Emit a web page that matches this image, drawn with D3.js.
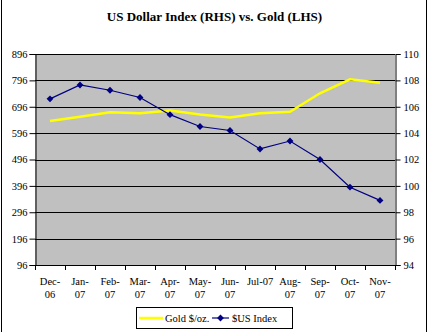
<!DOCTYPE html>
<html><head><meta charset="utf-8">
<script src="https://cdn.jsdelivr.net/npm/d3@7/dist/d3.min.js"></script>
<style>
body{margin:0;background:#fff;}
text{font-family:"Liberation Serif","Times New Roman",serif;fill:#000;}
</style></head>
<body><svg id="c" width="429" height="332"></svg>
<script>
const months = [["Dec-","06"],["Jan-","07"],["Feb-","07"],["Mar-","07"],["Apr-","07"],["May-","07"],["Jun-","07"],["Jul-07"],["Aug-","07"],["Sep-","07"],["Oct-","07"],["Nov-","07"]];
const gold = [642, 658, 675, 671, 682, 667, 655, 671, 677, 747, 800, 787];
const usd = [106.6, 107.65, 107.25, 106.7, 105.4, 104.5, 104.2, 102.8, 103.4, 102.0, 99.9, 98.9];
const leftTicks = [96,196,296,396,496,596,696,796,896];
const rightTicks = [94,96,98,100,102,104,106,108,110];
const title = "US Dollar Index (RHS) vs. Gold (LHS)";
const legendLabels = ["Gold $/oz.","$US Index"];

const svg = d3.select("#c");
const L=35, R=395, T=54, B=265;
const x = d3.scaleBand().domain(d3.range(months.length)).range([L,R]);
const yL = d3.scaleLinear().domain([96,896]).range([B,T]);
const yR = d3.scaleLinear().domain([94,110]).range([B,T]);

// outer borders
svg.append("line").attr("x1",1.5).attr("x2",1.5).attr("y1",0).attr("y2",332).attr("stroke","#000");
svg.append("line").attr("x1",426.5).attr("x2",426.5).attr("y1",0).attr("y2",332).attr("stroke","#000");

svg.append("text").attr("x",214.5).attr("y",21).attr("text-anchor","middle")
  .style("font-size","13px").style("font-weight","bold").text(title);

svg.append("rect").attr("x",L).attr("y",T).attr("width",R-L).attr("height",B-T).attr("fill","#c0c0c0");

// gridlines
svg.append("g").selectAll("line").data(leftTicks.slice(1)).join("line")
  .attr("x1",L).attr("x2",R).attr("y1",d=>Math.round(yL(d))+0.5).attr("y2",d=>Math.round(yL(d))+0.5)
  .attr("stroke","#000");

// left axis
const gl = svg.append("g").attr("transform",`translate(${L+0.5},0)`)
  .call(d3.axisLeft(yL).tickValues(leftTicks).tickSize(6).tickPadding(2).tickFormat(d3.format("d")).offset(0.5));
gl.attr("font-family",null);
gl.selectAll("text").style("font-size","10.5px");
gl.select(".domain").attr("stroke","#000");

// right axis
const gr = svg.append("g").attr("transform",`translate(${R+0.5},0)`)
  .call(d3.axisRight(yR).tickValues(rightTicks).tickSize(5).tickPadding(3).tickFormat(d3.format("d")).offset(0.5));
gr.attr("font-family",null);
gr.selectAll("text").style("font-size","10.5px");

// bottom axis
svg.append("line").attr("x1",L).attr("x2",R+1).attr("y1",B+0.5).attr("y2",B+0.5).attr("stroke","#000");
const bounds = d3.range(months.length+1).map(i=> i<months.length ? x(i) : x(months.length-1)+x.bandwidth());
svg.append("g").selectAll("line").data(bounds).join("line")
  .attr("x1",d=>Math.round(d)+0.5).attr("x2",d=>Math.round(d)+0.5).attr("y1",B).attr("y2",B+5).attr("stroke","#000");
const xl = svg.append("g").selectAll("text").data(months).join("text")
  .attr("x",(d,i)=>x(i)+x.bandwidth()/2).attr("y",285).attr("text-anchor","middle").style("font-size","10.5px");
xl.selectAll("tspan").data(d=>d).join("tspan")
  .attr("x",function(){return this.parentNode.getAttribute("x");})
  .attr("dy",(d,i)=>i===0?0:13).text(d=>d);

const cx = i=>x(i)+x.bandwidth()/2;
// gold line
svg.append("path").datum(gold).attr("fill","none").attr("stroke","#ffff00").attr("stroke-width",2.5)
  .attr("d",d3.line().x((d,i)=>cx(i)).y(d=>yL(d)));
// usd line
svg.append("path").datum(usd).attr("fill","none").attr("stroke","#000080").attr("stroke-width",1.2)
  .attr("d",d3.line().x((d,i)=>cx(i)).y(d=>yR(d)));
const diamond = d3.symbol().type(d3.symbolDiamond2).size(30);
svg.append("g").selectAll("path").data(usd).join("path")
  .attr("transform",(d,i)=>`translate(${cx(i)},${yR(d)})`).attr("d",diamond).attr("fill","#000080");

// legend
const lg = svg.append("g");
lg.append("rect").attr("x",136.5).attr("y",307.5).attr("width",156).attr("height",21).attr("fill","#fff").attr("stroke","#000");
lg.append("line").attr("x1",139).attr("x2",163).attr("y1",318).attr("y2",318).attr("stroke","#ffff00").attr("stroke-width",2.5);
lg.append("text").attr("x",165).attr("y",322).style("font-size","10.5px").text(legendLabels[0]);
lg.append("line").attr("x1",212).attr("x2",229).attr("y1",318).attr("y2",318).attr("stroke","#000080").attr("stroke-width",1.2);
lg.append("path").attr("transform","translate(220.5,318)").attr("d",diamond).attr("fill","#000080");
lg.append("text").attr("x",232).attr("y",322).style("font-size","10.5px").text(legendLabels[1]);
</script></body></html>
